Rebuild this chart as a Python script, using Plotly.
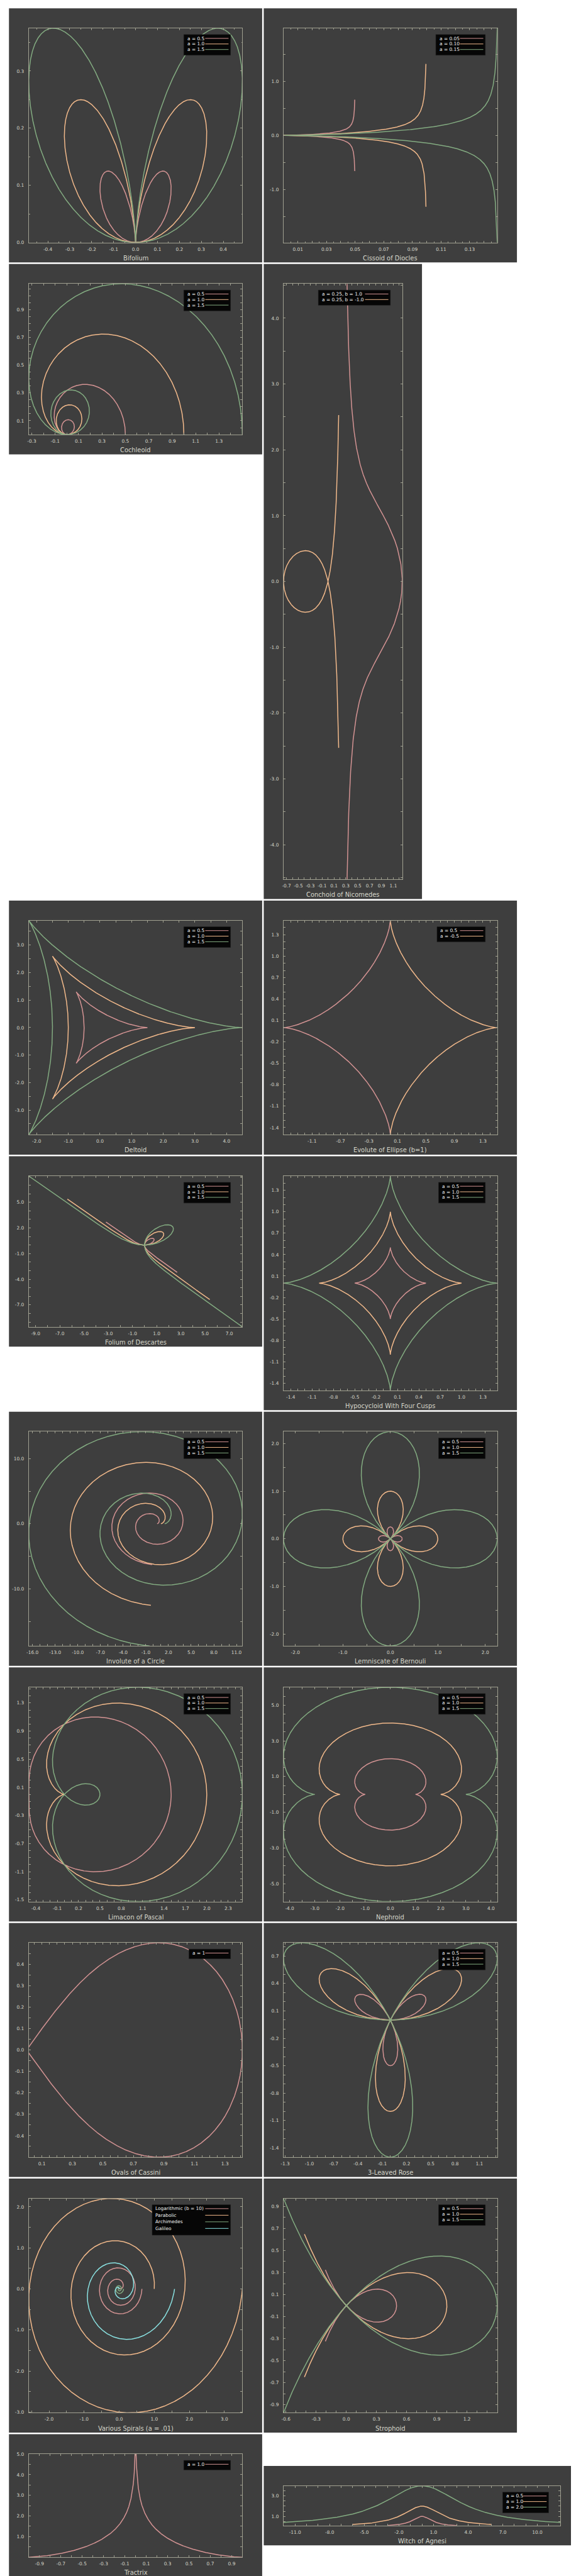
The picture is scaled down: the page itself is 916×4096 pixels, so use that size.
import numpy as np
import plotly.graph_objects as go

# ---------------------------------------------------------------- data
TITLES = ["Bifolium", "Cissoid of Diocles", "Cochleoid", "Conchoid of Nicomedes",
          "Deltoid", "Evolute of Ellipse (b=1)", "Folium of Descartes",
          "Hypocycloid With Four Cusps", "Involute of a Circle", "Lemniscate of Bernouli",
          "Limacon of Pascal", "Nephroid", "Ovals of Cassini", "3-Leaved Rose",
          "Various Spirals (a = .01)", "Strophoid", "Tractrix", "Witch of Agnesi"]

A3 = [0.5, 1.0, 1.5]
A3_LABELS = ["a = 0.5", "a = 1.0", "a = 1.5"]
BIFOLIUM_A = A3
CISSOID_A = [0.05, 0.10, 0.15]
CISSOID_LABELS = ["a = 0.05", "a = 0.10", "a = 0.15"]
COCHLEOID_A = A3
NICOMEDES_A = [0.25, 0.25]
NICOMEDES_B = [1.0, -1.0]
NICOMEDES_LABELS = ["a = 0.25, b = 1.0", "a = 0.25, b = -1.0"]
DELTOID_A = A3
EVOLUTE_A = [0.5, -0.5]
EVOLUTE_LABELS = ["a = 0.5", "a = -0.5"]
FOLIUM_A = A3
HYPOCYCLOID_A = A3
INVOLUTE_A = A3
LEMNISCATE_A = A3
LIMACON_A = A3
NEPHROID_A = A3
CASSINI_A = [1.0]
CASSINI_LABELS = ["a = 1"]
ROSE_A = A3
SPIRAL_A = 0.01
SPIRAL_B = 10.0
SPIRAL_LABELS = ["Logarithmic (b = 10)", "Parabolic", "Archimedes", "Galileo"]
STROPHOID_A = A3
TRACTRIX_A = [1.0]
TRACTRIX_LABELS = ["a = 1.0"]
WITCH_A = [0.5, 1.0, 2.0]
WITCH_LABELS = ["a = 0.5", "a = 1.0", "a = 2.0"]

# tick labels (x, y) per chart
BIFOLIUM_XT = [-0.4, -0.3, -0.2, -0.1, 0.0, 0.1, 0.2, 0.3, 0.4]
BIFOLIUM_YT = [0.0, 0.1, 0.2, 0.3]
CISSOID_XT = [0.01, 0.03, 0.05, 0.07, 0.09, 0.11, 0.13]
CISSOID_YT = [-1.0, 0.0, 1.0]
COCHLEOID_XT = [-0.3, -0.1, 0.1, 0.3, 0.5, 0.7, 0.9, 1.1, 1.3]
COCHLEOID_YT = [0.1, 0.3, 0.5, 0.7, 0.9]
NICOMEDES_XT = [-0.7, -0.5, -0.3, -0.1, 0.1, 0.3, 0.5, 0.7, 0.9, 1.1]
NICOMEDES_YT = [-4.0, -3.0, -2.0, -1.0, 0.0, 1.0, 2.0, 3.0, 4.0]
DELTOID_XT = [-2.0, -1.0, 0.0, 1.0, 2.0, 3.0, 4.0]
DELTOID_YT = [-3.0, -2.0, -1.0, 0.0, 1.0, 2.0, 3.0]
EVOLUTE_XT = [-1.5, -1.1, -0.7, -0.3, 0.1, 0.5, 0.9, 1.3]
EVOLUTE_YT = [-1.4, -1.1, -0.8, -0.5, -0.2, 0.1, 0.4, 0.7, 1.0, 1.3]
FOLIUM_XT = [-9.0, -7.0, -5.0, -3.0, -1.0, 1.0, 3.0, 5.0, 7.0, 9.0]
FOLIUM_YT = [-10.0, -7.0, -4.0, -1.0, 2.0, 5.0]
HYPO_XT = [-1.4, -1.1, -0.8, -0.5, -0.2, 0.1, 0.4, 0.7, 1.0, 1.3]
HYPO_YT = [-1.4, -1.1, -0.8, -0.5, -0.2, 0.1, 0.4, 0.7, 1.0, 1.3]
INVOLUTE_XT = [-16.0, -13.0, -10.0, -7.0, -4.0, -1.0, 2.0, 5.0, 8.0, 11.0]
INVOLUTE_YT = [-10.0, 0.0, 10.0]
LEMNISCATE_XT = [-2.0, -1.0, 0.0, 1.0, 2.0]
LEMNISCATE_YT = [-2.0, -1.0, 0.0, 1.0, 2.0]
LIMACON_XT = [-0.4, -0.1, 0.2, 0.5, 0.8, 1.1, 1.4, 1.7, 2.0, 2.3]
LIMACON_YT = [-1.5, -1.1, -0.7, -0.3, 0.1, 0.5, 0.9, 1.3]
NEPHROID_XT = [-4.0, -3.0, -2.0, -1.0, 0.0, 1.0, 2.0, 3.0, 4.0]
NEPHROID_YT = [-5.0, -3.0, -1.0, 1.0, 3.0, 5.0]
CASSINI_XT = [0.1, 0.3, 0.5, 0.7, 0.9, 1.1, 1.3]
CASSINI_YT = [-0.4, -0.3, -0.2, -0.1, 0.0, 0.1, 0.2, 0.3, 0.4]
ROSE_XT = [-1.3, -1.0, -0.7, -0.4, -0.1, 0.2, 0.5, 0.8, 1.1]
ROSE_YT = [-1.4, -1.1, -0.8, -0.5, -0.2, 0.1, 0.4, 0.7]
SPIRAL_XT = [-2.0, -1.0, 0.0, 1.0, 2.0, 3.0]
SPIRAL_YT = [-3.0, -2.0, -1.0, 0.0, 1.0, 2.0]
STROPHOID_XT = [-0.6, -0.3, 0.0, 0.3, 0.6, 0.9, 1.2, 1.5]
STROPHOID_YT = [-0.9, -0.7, -0.5, -0.3, -0.1, 0.1, 0.3, 0.5, 0.7, 0.9]
TRACTRIX_XT = [-0.9, -0.7, -0.5, -0.3, -0.1, 0.1, 0.3, 0.5, 0.7, 0.9]
TRACTRIX_YT = [1.0, 2.0, 3.0, 4.0, 5.0]
WITCH_XT = [-11.0, -8.0, -5.0, -2.0, 1.0, 4.0, 7.0, 10.0]
WITCH_YT = [1.0, 3.0]

# ---------------------------------------------------------------- style
REF_W, REF_H = 1448.0, 6476.0
FIG_W, FIG_H = 916, 4096
BG_PANEL = "#3e3e3e"
FRAME = "#a0a090"
TEXT = "#d6d6ca"
LEG_BG = "#060606"
LEG_TEXT = "#f0f0f0"
PINK, ORANGE, GREEN, CYAN = "#d39393", "#f1b98b", "#83ab81", "#8ae2e2"
SER = [PINK, ORANGE, GREEN]
FONT = "DejaVu Sans"
N = 2500


def pol(r, th):
    return r * np.cos(th), r * np.sin(th)


def curves_bifolium():
    th = np.linspace(0, np.pi, N)
    return [pol(a * np.sin(th) * np.cos(th) ** 2, th) for a in BIFOLIUM_A]


def curves_cissoid():
    t = np.linspace(-13.3, 13.3, N)
    return [(a * t ** 2 / (1 + t ** 2), a * t ** 3 / (1 + t ** 2)) for a in CISSOID_A]


def curves_cochleoid():
    th = np.linspace(1e-4, 2 * np.pi, N)
    return [pol(a * np.sin(th) / th, th) for a in COCHLEOID_A]


def curves_nicomedes():
    th = np.linspace(-1.5, 1.5, N)
    return [(a + b * np.cos(th), a * np.tan(th) + b * np.sin(th))
            for a, b in zip(NICOMEDES_A, NICOMEDES_B)]


def curves_deltoid():
    t = np.linspace(0, 2 * np.pi, N)
    return [(2 * a * np.cos(t) + a * np.cos(2 * t), 2 * a * np.sin(t) - a * np.sin(2 * t))
            for a in DELTOID_A]


def curves_evolute():
    t = np.linspace(-np.pi / 2, np.pi / 2, N)
    out = []
    for a in EVOLUTE_A:
        c = (a * a - 1.0) / a
        out.append((c * np.cos(t) ** 3, abs(c) * np.sin(t) ** 3))
    return out


def curves_folium():
    d = 0.084
    th = np.linspace(-np.pi / 4 + d, 3 * np.pi / 4 - d, N)
    s, c = np.sin(th), np.cos(th)
    return [pol(3 * a * s * c / (s ** 3 + c ** 3), th) for a in FOLIUM_A]


def curves_hypo():
    t = np.linspace(0, 2 * np.pi, N)
    return [(a * np.cos(t) ** 3, a * np.sin(t) ** 3) for a in HYPOCYCLOID_A]


def curves_involute():
    t = np.linspace(0, 12.46, N)
    return [(a * (np.cos(t) + t * np.sin(t)), a * (np.sin(t) - t * np.cos(t))) for a in INVOLUTE_A]


def curves_lemniscate():
    th = np.linspace(0, 2 * np.pi, N)
    return [pol(a * a * np.cos(2 * th), th) for a in LEMNISCATE_A]


def curves_limacon():
    th = np.linspace(0, 2 * np.pi, N)
    return [pol(1 + a * np.cos(th), th) for a in LIMACON_A]


def curves_nephroid():
    t = np.linspace(0, 2 * np.pi, N)
    return [(a * (3 * np.cos(t) - np.cos(3 * t)), a * (3 * np.sin(t) - np.sin(3 * t))) for a in NEPHROID_A]


def curves_cassini():
    th = np.linspace(-np.pi / 4 + 1e-4, np.pi / 4 - 1e-4, N)
    return [pol(np.sqrt(np.clip(2 * a * a * np.cos(2 * th), 0, None)), th) for a in CASSINI_A]


def curves_rose():
    th = np.linspace(0, np.pi, N)
    return [pol(a * np.sin(3 * th), th) for a in ROSE_A]


def curves_spirals():
    th = np.linspace(0, 4 * np.pi, N)
    log_r = np.exp(th / SPIRAL_B)
    par_r = 0.183 * np.sqrt(th)
    arc_r = SPIRAL_A * th
    gal_r = SPIRAL_A * th ** 2
    return [pol(log_r, th), pol(par_r, th), pol(arc_r, th), pol(gal_r, th)]


def curves_strophoid():
    th = np.linspace(-1.0, 1.0, N)
    return [pol(a * np.cos(2 * th) / np.cos(th), th) for a in STROPHOID_A]


def curves_tractrix():
    t = np.linspace(0, 6.0, N // 2)
    out = []
    for a in TRACTRIX_A:
        xr = a / np.cosh(t)
        yr = a * (t - np.tanh(t))
        out.append((np.concatenate([-xr, xr[::-1]]), np.concatenate([yr, yr[::-1]])))
    return out


def curves_witch():
    out = []
    for a in WITCH_A:
        x = np.linspace(-6 * a, 6 * a, N)
        out.append((x, 8 * a ** 3 / (x ** 2 + 4 * a ** 2)))
    return out


# panel boxes in reference pixels: (left, top, width, height)
SPECS = [
    dict(box=(2, 2, 640, 640), cur=curves_bifolium(), col=SER, leg=A3_LABELS, lw=118,
         xt=(BIFOLIUM_XT, 0.1, 0.05, 1), yt=(BIFOLIUM_YT, 0.1, 0.05, 1)),
    dict(box=(646, 2, 640, 640), cur=curves_cissoid(), col=SER, leg=CISSOID_LABELS, lw=125,
         xt=(CISSOID_XT, 0.01, 0.005, 2), yt=(CISSOID_YT, 0.5, None, 1)),
    dict(box=(2, 646, 640, 480), cur=curves_cochleoid(), col=SER, leg=A3_LABELS, lw=118,
         xt=(COCHLEOID_XT, 0.1, None, 1), yt=(COCHLEOID_YT, 0.05, None, 1)),
    dict(box=(646, 646, 400, 1600), cur=curves_nicomedes(), col=[PINK, ORANGE], leg=NICOMEDES_LABELS, lw=182,
         xt=(NICOMEDES_XT, 0.1, None, 1), yt=(NICOMEDES_YT, 0.5, None, 1)),
    dict(box=(2, 2250, 640, 640), cur=curves_deltoid(), col=SER, leg=A3_LABELS, lw=118,
         xt=(DELTOID_XT, 0.5, None, 1), yt=(DELTOID_YT, 0.5, None, 1)),
    dict(box=(646, 2250, 640, 640), cur=curves_evolute(), col=[PINK, ORANGE], leg=EVOLUTE_LABELS, lw=122,
         xt=(EVOLUTE_XT, 0.1, None, 1), yt=(EVOLUTE_YT, 0.1, None, 1)),
    dict(box=(2, 2894, 640, 480), cur=curves_folium(), col=SER, leg=A3_LABELS, lw=118,
         xt=(FOLIUM_XT, 1.0, None, 1), yt=(FOLIUM_YT, 1.0, None, 1)),
    dict(box=(646, 2894, 640, 640), cur=curves_hypo(), col=SER, leg=A3_LABELS, lw=118,
         xt=(HYPO_XT, 0.1, None, 1), yt=(HYPO_YT, 0.1, None, 1)),
    dict(box=(2, 3538, 640, 640), cur=curves_involute(), col=SER, leg=A3_LABELS, lw=118,
         xt=(INVOLUTE_XT, 1.0, None, 1), yt=(INVOLUTE_YT, 5.0, None, 1)),
    dict(box=(646, 3538, 640, 640), cur=curves_lemniscate(), col=SER, leg=A3_LABELS, lw=118,
         xt=(LEMNISCATE_XT, 0.5, None, 1), yt=(LEMNISCATE_YT, 0.5, None, 1)),
    dict(box=(2, 4182, 640, 640), cur=curves_limacon(), col=SER, leg=A3_LABELS, lw=118,
         xt=(LIMACON_XT, 0.1, None, 1), yt=(LIMACON_YT, 0.1, None, 1)),
    dict(box=(646, 4182, 640, 640), cur=curves_nephroid(), col=SER, leg=A3_LABELS, lw=118,
         xt=(NEPHROID_XT, 0.5, None, 1), yt=(NEPHROID_YT, 0.5, None, 1)),
    dict(box=(2, 4826, 640, 640), cur=curves_cassini(), col=[PINK], leg=CASSINI_LABELS, lw=105,
         xt=(CASSINI_XT, 0.05, None, 1), yt=(CASSINI_YT, 0.05, None, 1)),
    dict(box=(646, 4826, 640, 640), cur=curves_rose(), col=SER, leg=A3_LABELS, lw=118,
         xt=(ROSE_XT, 0.1, None, 1), yt=(ROSE_YT, 0.1, None, 1)),
    dict(box=(2, 5470, 640, 640), cur=curves_spirals(), col=[ORANGE, PINK, GREEN, CYAN],
         legcol=[PINK, ORANGE, GREEN, CYAN], leg=SPIRAL_LABELS, lw=198, rowh=16.6,
         xt=(SPIRAL_XT, 0.5, None, 1), yt=(SPIRAL_YT, 0.5, None, 1)),
    dict(box=(646, 5470, 640, 640), cur=curves_strophoid(), col=SER, leg=A3_LABELS, lw=118,
         xt=(STROPHOID_XT, 0.1, None, 1), yt=(STROPHOID_YT, 0.1, None, 1)),
    dict(box=(2, 6114, 640, 360), cur=curves_tractrix(), col=[PINK], leg=TRACTRIX_LABELS, lw=118,
         xt=(TRACTRIX_XT, 0.1, None, 1), yt=(TRACTRIX_YT, 0.5, None, 1)),
    dict(box=(646, 6194, 800, 200), cur=curves_witch(), col=SER, leg=WITCH_LABELS, lw=116,
         xt=(WITCH_XT, 1.0, None, 1), yt=(WITCH_YT, 0.5, None, 1)),
]


def PX(x):
    return x / REF_W


def PY(y):
    return 1.0 - y / REF_H


def fmt(v, d):
    s = f"{v:.{d}f}"
    if float(s) == 0:
        s = s.lstrip("-")
    return s


def grid_vals(lo, hi, step):
    k0 = int(np.ceil(lo / step - 1e-6))
    k1 = int(np.floor(hi / step + 1e-6))
    return [round(k * step, 10) for k in range(k0, k1 + 1)]


def make_axis(domain, anchor, rng, spec, standoff):
    labels, step, minor, dec = spec
    vals = grid_vals(rng[0], rng[1], step)
    text = [fmt(v, dec) if any(abs(v - l) < step * 1e-3 for l in labels) else "" for v in vals]
    ax = dict(domain=domain, anchor=anchor, range=list(rng), autorange=False,
              showline=True, linecolor=FRAME, linewidth=1.1, mirror="ticks",
              ticks="inside", tickcolor=FRAME, tickwidth=1, ticklen=3.0,
              tickmode="array", tickvals=vals, ticktext=text, tickangle=0,
              tickfont=dict(family=FONT, size=7.4, color=TEXT),
              showgrid=False, zeroline=False, ticklabelstandoff=standoff, fixedrange=True)
    if minor:
        mv = [v for v in grid_vals(rng[0], rng[1], minor)
              if all(abs(v - u) > minor * 1e-3 for u in vals)]
        ax["minor"] = dict(ticks="inside", tickmode="array", tickvals=mv, ticklen=1.8,
                           tickcolor=FRAME, tickwidth=1, showgrid=False)
    return ax


fig = go.Figure()
shapes, annos, lay = [], [], {}

for i, sp in enumerate(SPECS, start=1):
    x0, y0, w, h = sp["box"]
    shapes.append(dict(type="rect", xref="paper", yref="paper", x0=PX(x0), x1=PX(x0 + w),
                       y0=PY(y0 + h), y1=PY(y0), fillcolor=BG_PANEL, line=dict(width=0), layer="below"))
    xs = np.concatenate([c[0] for c in sp["cur"]])
    ys = np.concatenate([c[1] for c in sp["cur"]])
    xr = (float(np.nanmin(xs)), float(np.nanmax(xs)))
    yr = (float(np.nanmin(ys)), float(np.nanmax(ys)))
    sfx = "" if i == 1 else str(i)
    for (cx, cy), col in zip(sp["cur"], sp["col"]):
        fig.add_trace(go.Scatter(x=cx, y=cy, mode="lines", line=dict(color=col, width=1.5),
                                 xaxis="x" + sfx, yaxis="y" + sfx, showlegend=False, hoverinfo="skip"))
    lay["xaxis" + sfx] = make_axis([PX(x0 + 50), PX(x0 + w - 50)], "y" + sfx, xr, sp["xt"], 3)
    lay["yaxis" + sfx] = make_axis([PY(y0 + h - 50), PY(y0 + 50)], "x" + sfx, yr, sp["yt"], 5)
    annos.append(dict(xref="paper", yref="paper", x=PX(x0 + w / 2), y=PY(y0 + h - 11),
                      text=TITLES[i - 1], showarrow=False, xanchor="center", yanchor="middle",
                      font=dict(family=FONT, size=9.9, color=TEXT)))
    labels = sp["leg"]
    lcols = sp.get("legcol", sp["col"])
    rowh = sp.get("rowh", 14.0)
    right = x0 + w - 80
    left = right - sp["lw"]
    top = y0 + 66
    bottom = top + rowh * len(labels) + 10
    shapes.append(dict(type="rect", xref="paper", yref="paper", x0=PX(left), x1=PX(right),
                       y0=PY(bottom), y1=PY(top), fillcolor=LEG_BG, line=dict(color="#1c1c1c", width=0.6)))
    for j, (lab, col) in enumerate(zip(labels, lcols)):
        yc = top + 9.7 + rowh * j
        shapes.append(dict(type="line", xref="paper", yref="paper", x0=PX(right - 64), x1=PX(right - 5),
                           y0=PY(yc), y1=PY(yc), line=dict(color=col, width=1.0)))
        annos.append(dict(xref="paper", yref="paper", x=PX(left + 5.5), y=PY(yc), text=lab,
                          showarrow=False, xanchor="left", yanchor="middle",
                          font=dict(family=FONT, size=7.4, color=LEG_TEXT)))

fig.update_layout(width=FIG_W, height=FIG_H, margin=dict(l=0, r=0, t=0, b=0, pad=0),
                  paper_bgcolor="white", plot_bgcolor=BG_PANEL, showlegend=False,
                  shapes=shapes, annotations=annos, font=dict(family=FONT), **lay)
fig.write_html("out.html")
